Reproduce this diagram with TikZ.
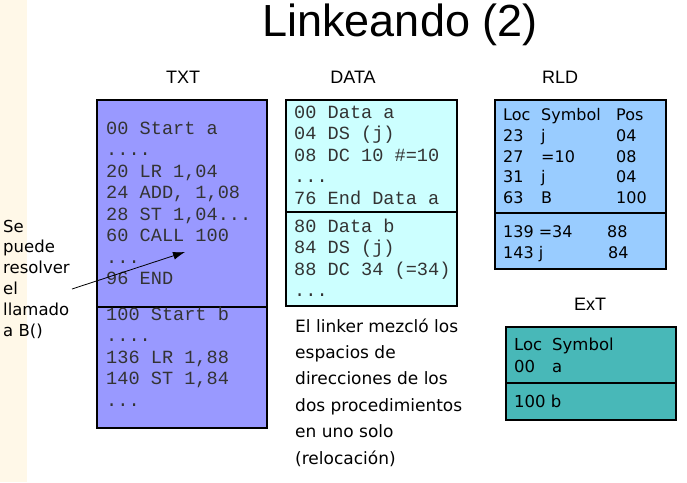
\documentclass[tikz,border=0pt]{standalone}
\usepackage{fontspec}
\setmainfont{Liberation Sans}
\newfontfamily\codefont{Liberation Mono}
\newfontfamily\tabfont{DejaVu Sans}
\usetikzlibrary{arrows.meta,positioning}

\definecolor{txtblue}{HTML}{9999FF}
\definecolor{datacyan}{HTML}{CCFFFF}
\definecolor{rldblue}{HTML}{99CCFF}
\definecolor{extteal}{HTML}{48B8B8}
\definecolor{cream}{HTML}{FFF8E8}
\definecolor{codegray}{HTML}{333333}

\newcommand{\fourdots}{....}
\newcommand{\threedots}{...}

\begin{document}
\begin{tikzpicture}[x=1pt,y=-1pt,
  seg/.style={draw,line width=1.2pt,outer sep=0pt,inner sep=0pt,minimum width=171pt},
  head/.style={anchor=base,font=\fontsize{18}{20}\selectfont},
  code/.style={anchor=base west,inner sep=0pt,text=codegray,font=\codefont\fontsize{18.6}{21}\selectfont},
  tab/.style={anchor=base west,inner sep=0pt,font=\tabfont\fontsize{16}{18}\selectfont},
  note/.style={anchor=base west,inner sep=0pt,font=\tabfont\fontsize{16.5}{20}\selectfont},
  remark/.style={anchor=base west,inner sep=0pt,font=\tabfont\fontsize{17}{20}\selectfont}]
  \useasboundingbox (0,0) rectangle (687,482);
  \fill[cream] (0,0) rectangle (27,482);

  % title and headings
  \node[anchor=base,font=\fontsize{45}{50}\selectfont] (title) at (400,36) {Linkeando (2)};
  \node[head] (htxt)  at (183,83) {TXT};
  \node[head] (hdata) at (353,83) {DATA};
  \node[head] (hrld)  at (560,83) {RLD};
  \node[head] (hext)  at (590,310) {ExT};

  % TXT
  \node[seg,fill=txtblue,minimum width=170pt,minimum height=207pt,anchor=north west] (txta) at (97,100) {};
  \node[seg,fill=txtblue,minimum width=170pt,minimum height=121pt,below=0pt of txta] (txtb) {};
  \foreach \t [count=\i] in {00 Start a,\fourdots,{20 LR 1,04},{24 ADD, 1,08},{28 ST 1,04\threedots},60 CALL 100,\threedots,96 END}
    \node[code] (ta\i) at (106,113.05+21.45*\i) {\t};
  \foreach \t [count=\i] in {100 Start b,\fourdots,{136 LR 1,88},{140 ST 1,84},\threedots}
    \node[code] (tb\i) at (106,299.05+21.45*\i) {\t};

  % DATA
  \node[seg,fill=datacyan,minimum height=112pt,anchor=north west] (dataa) at (286,100) {};
  \node[seg,fill=datacyan,minimum height=94pt,below=0pt of dataa] (datab) {};
  \foreach \t [count=\i] in {00 Data a,04 DS (j),08 DC 10 \#=10,\threedots,76 End Data a}
    \node[code] (da\i) at (294,97.05+21.45*\i) {\t};
  \foreach \t [count=\i] in {80 Data b,84 DS (j),88 DC 34 (=34),\threedots}
    \node[code] (db\i) at (294,211.05+21.45*\i) {\t};

  % RLD
  \node[seg,fill=rldblue,minimum height=113pt,anchor=north west] (rlda) at (495,100) {};
  \node[seg,fill=rldblue,minimum height=56pt,below=0pt of rlda] (rldb) {};
  \foreach \l/\s/\p [count=\i] in {Loc/Symbol/Pos,23/j/04,27/=10/08,31/j/04,63/B/100} {
    \node[tab] (rloc\i) at (503,99.75+20.75*\i) {\l};
    \node[tab] (rsym\i) at (541,99.75+20.75*\i) {\s};
    \node[tab] (rpos\i) at (616,99.75+20.75*\i) {\p};
  }
  \node[tab] (rloc6) at (503,237.5) {139 =34};
  \node[tab] (rpos6) at (607,237.5) {88};
  \node[tab] (rloc7) at (503,258) {143 j};
  \node[tab] (rpos7) at (608,258) {84};

  % ExT
  \node[seg,fill=extteal,minimum width=170pt,minimum height=56pt,anchor=north west] (exta) at (506,327) {};
  \node[seg,fill=extteal,minimum width=170pt,minimum height=37pt,below=0pt of exta] (extb) {};
  \node[tab,font=\tabfont\fontsize{16.5}{18}\selectfont] (eloc1) at (514,350.5) {Loc};
  \node[tab,font=\tabfont\fontsize{16.5}{18}\selectfont] (esym1) at (552,350.5) {Symbol};
  \node[tab,font=\tabfont\fontsize{16.5}{18}\selectfont] (eloc2) at (514,372.5) {00};
  \node[tab,font=\tabfont\fontsize{16.5}{18}\selectfont] (esym2) at (552,372.5) {a};
  \node[tab,font=\tabfont\fontsize{16.5}{18}\selectfont] (eloc3) at (514,407.5) {100 b};

  % notes
  \foreach \w [count=\i] in {Se,puede,resolver,el,llamado,a B()}
    \node[note] (n\i) at (3,211.2+20.8*\i) {\w};
  \foreach \w [count=\i] in {El linker mezcló los,espacios de,direcciones de los,dos procedimientos,en uno solo,(relocación)}
    \node[remark] (r\i) at (295,305.6+26.4*\i) {\w};

  \coordinate (callfrom) at (72,289);
  \coordinate (callto) at (185,252);
  \draw[-{Latex[length=12pt,width=8pt]},line width=0.8pt] (callfrom) -- (callto);
\end{tikzpicture}
\end{document}
